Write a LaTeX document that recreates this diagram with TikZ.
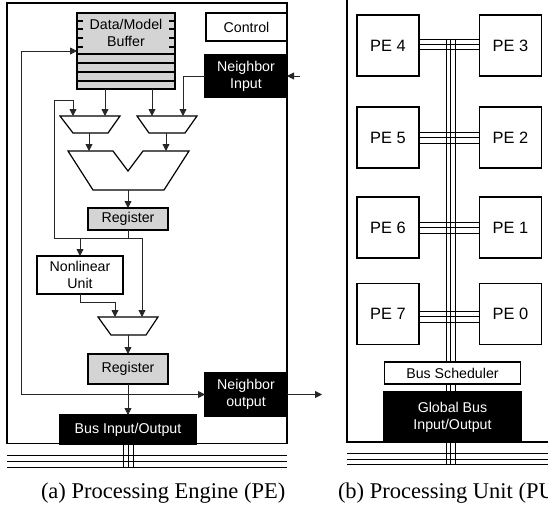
\documentclass[tikz,border=0pt]{standalone}
\usepackage{fontspec}
\setmainfont{Liberation Serif}
\setsansfont{Liberation Sans}
\usetikzlibrary{arrows.meta}
\tikzset{
  x=1pt,y=-1pt,
  >={Triangle[length=7pt,width=7pt]},
  blk/.style={draw=black,line width=1.2pt,inner sep=0pt,outer sep=0pt,align=center,font=\sffamily\fontsize{14.2}{17}\selectfont},
  gray box/.style={blk,fill=black!17},
  white box/.style={blk,fill=white},
  black box/.style={blk,fill=black,text=white},
  pe box/.style={blk,fill=white,minimum width=62pt,minimum height=61pt,font=\sffamily\fontsize{16.4}{17}\selectfont},
  mux shape/.style={draw=black,line width=1.2pt,fill=white},
  wire/.style={line width=.8pt,draw=black!85},
  bus/.style={line width=1pt,draw=black},
  frame line/.style={line width=1.7pt,draw=black},
  cap text/.style={inner sep=0pt,outer sep=0pt,anchor=base west,font=\rmfamily\fontsize{22.5}{24}\selectfont},
}
\begin{document}
\begin{tikzpicture}
\useasboundingbox (0,0) rectangle (548,507);
\clip (0,0) rectangle (548,507);
% ---------- (a) PE ----------
\draw[frame line,fill=white] (7,3) rectangle (287,443.5);
\foreach \yy in {455,461,467} \draw[bus] (7,\yy) -- (287,\yy);
% buffer
\node[gray box,minimum width=98pt,minimum height=76pt] (buf) at (126,51) {};
\node[inner sep=0pt,align=center,font=\sffamily\fontsize{14.2}{17}\selectfont] (buflabel) at (126,33) {Data/Model\\Buffer};
\foreach \yy in {54,63,72,81} \draw[line width=1.2pt] (77,\yy) -- (175,\yy);
\foreach \yy in {21,29,38,47} {
  \draw[line width=1.2pt] (77,\yy) -- (83,\yy);
  \draw[line width=1.2pt] (169,\yy) -- (175,\yy);
}
\node[white box,minimum width=81pt,minimum height=28pt] (ctrl) at (246.5,27) {Control};
\node[black box,minimum width=82pt,minimum height=42pt] (nin) at (246,76) {Neighbor\\Input};
\coordinate (ninext) at (300,76);
% muxes
\draw[mux shape] (60,116) -- (120,116) -- (108,133) -- (73,133) -- cycle;
\draw[mux shape] (137,116) -- (197,116) -- (185,133) -- (149,133) -- cycle;
\draw[mux shape] (98,317) -- (158,317) -- (146,335) -- (111,335) -- cycle;
\draw[mux shape] (68,151) -- (113,151) -- (128,171) -- (143,151) -- (189,151) -- (164,190) -- (93,190) -- cycle;
\coordinate (m1a) at (73,116); \coordinate (m1b) at (105,116); \coordinate (m1o) at (89,133);
\coordinate (m2a) at (152,116); \coordinate (m2b) at (183,116); \coordinate (m2o) at (166,133);
\coordinate (m3a) at (115,317); \coordinate (m3b) at (142,317); \coordinate (m3o) at (128,335);
\coordinate (alua) at (89,151); \coordinate (alub) at (166,151); \coordinate (aluo) at (128,190);
\coordinate (bufa) at (105,89); \coordinate (bufb) at (152,89); \coordinate (bufin) at (77,51);
\node[gray box,minimum width=80pt,minimum height=22pt] (reg1) at (128,219) {Register};
\node[white box,minimum width=86pt,minimum height=38pt] (nl) at (80,275) {Nonlinear\\Unit};
\node[gray box,minimum width=80pt,minimum height=30pt] (reg2) at (128,369) {Register};
\node[black box,minimum width=82pt,minimum height=43pt] (nout) at (246,394.5) {Neighbor\\output};
\coordinate (noutext) at (322,394.5);
\node[black box,minimum width=136pt,minimum height=29pt] (bio) at (128,429.5) {Bus Input/Output};
\coordinate (split1) at (128,238);
\coordinate (split2) at (128,394.5);
% wires
\draw[wire,->] (ninext) -- (nin.east);
\draw[wire,->] (nin.west) -| (m2b);
\draw[wire,->] (bufa) -- (m1b);
\draw[wire,->] (bufb) -- (m2a);
\draw[wire,->] (m1o) -- (alua);
\draw[wire,->] (m2o) -- (alub);
\draw[wire,->] (aluo) -- (reg1.north);
\draw[wire] (reg1.south) -- (split1);
\draw[wire,->] (split1) -- (54,238) -- (54,100) -- (73,100) -- (m1a);
\draw[wire,->] (80,238) -- (nl.north);
\draw[wire,->] (split1) -- (142,238) -- (m3b);
\draw[wire,->] (nl.south) -- (80,302) -- (115,302) -- (m3a);
\draw[wire,->] (m3o) -- (reg2.north);
\draw[wire,->] (reg2.south) -- (bio.north);
\draw[wire,->] (split2) -- (21,394.5) -- (21,51) -- (bufin);
\draw[wire,->] (split2) -- (nout.west);
\draw[wire,->] (nout.east) -- (noutext);
\foreach \xx in {123,128,133} \draw[bus] (\xx,444) -- (\xx,467);
% ---------- (b) PU ----------
\draw[frame line] (347,-2) -- (347,442) -- (550,442);
\foreach \yy in {453,459,464} \draw[bus] (347,\yy) -- (550,\yy);
\foreach \xx in {446,450.5,455} \draw[bus] (\xx,39) -- (\xx,464);
\foreach \yy in {39,44,49} \draw[bus] (419,\yy) -- (480,\yy);
\foreach \yy in {132,137.5,143} \draw[bus] (419,\yy) -- (480,\yy);
\foreach \yy in {222,227.5,233} \draw[bus] (419,\yy) -- (480,\yy);
\foreach \yy in {311,316,322} \draw[bus] (419,\yy) -- (480,\yy);
\node[pe box] (pe4) at (388,45.5) {PE 4};
\node[pe box] (pe3) at (510.5,45.5) {PE 3};
\node[pe box] (pe5) at (388,137.5) {PE 5};
\node[pe box] (pe2) at (510.5,137.5) {PE 2};
\node[pe box] (pe6) at (388,227.5) {PE 6};
\node[pe box] (pe1) at (510.5,227.5) {PE 1};
\node[pe box] (pe7) at (388,314) {PE 7};
\node[pe box] (pe0) at (510.5,314) {PE 0};
\node[white box,minimum width=136pt,minimum height=22pt] (sch) at (452.5,373) {Bus Scheduler};
\node[black box,minimum width=137pt,minimum height=50pt] (gbio) at (452.5,417) {Global Bus\\Input/Output};
% captions
\node[cap text] (capa) at (41,498) {(a) Processing Engine (PE)};
\node[cap text] (capb) at (338,498) {(b) Processing Unit (PU)};
\end{tikzpicture}
\end{document}
